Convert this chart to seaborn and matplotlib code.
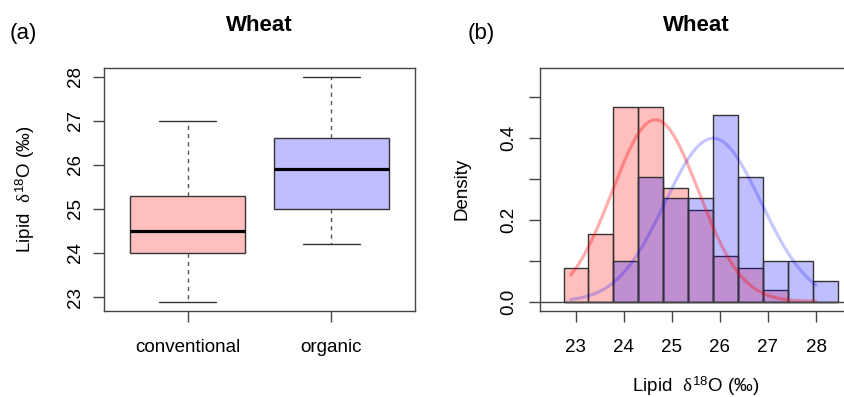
import numpy as np
import pandas as pd
import matplotlib
matplotlib.use("Agg")
import matplotlib.pyplot as plt
import seaborn as sns

# ---- data -------------------------------------------------------------
groups = ["conventional", "organic"]
# five-number summaries: lower whisker, Q1, median, Q3, upper whisker
conventional_summary = [22.9, 24.0, 24.5, 25.3, 27.0]
organic_summary = [24.2, 25.0, 25.9, 26.6, 28.0]

# histogram bins (shared) and densities
bin_start = 22.75
bin_width = 0.518
n_bins = 11
conventional_density = [0.082, 0.166, 0.475, 0.475, 0.278, 0.223, 0.110, 0.083, 0.027, 0.0, 0.0]
organic_density = [0.0, 0.0, 0.099, 0.304, 0.253, 0.253, 0.457, 0.304, 0.100, 0.100, 0.050]

# fitted normal curves (mean, sd)
conventional_fit = (24.66, 0.898)
organic_fit = (25.86, 1.0)
fit_range = (22.9, 28.0)

pink = (1.0, 0.75, 0.75)
lilac = (0.75, 0.75, 1.0)
edge = "#333333"

# ---- style ------------------------------------------------------------
sns.set_theme(style="ticks")
plt.rcParams["font.family"] = ["Liberation Sans", "DejaVu Sans"]
plt.rcParams["mathtext.fontset"] = "custom"
plt.rcParams["mathtext.rm"] = "Liberation Serif"
plt.rcParams["mathtext.it"] = "Liberation Serif"
plt.rcParams["mathtext.sf"] = "Liberation Sans"
plt.rcParams["text.color"] = "black"
plt.rcParams["axes.labelcolor"] = "black"
plt.rcParams["axes.titlecolor"] = "black"
plt.rcParams["axes.edgecolor"] = "#444444"
plt.rcParams["axes.linewidth"] = 1.0
plt.rcParams["xtick.color"] = "#444444"
plt.rcParams["ytick.color"] = "#444444"
plt.rcParams["xtick.labelcolor"] = "black"
plt.rcParams["ytick.labelcolor"] = "black"

TICK_FS = 13.5
LAB_FS = 13.5
ylabel_txt = r"Lipid  $\delta^{\mathsf{18}}$O (‰)"

fig = plt.figure(figsize=(8.44, 3.97), dpi=100)
W, H = 844, 397


def px_axes(l, t, r, b):
    return fig.add_axes([l / W, 1 - b / H, (r - l) / W, (b - t) / H])


# ---- (a) boxplot ------------------------------------------------------
ax1 = px_axes(104, 67.5, 415, 310.5)
box_df = pd.DataFrame({
    "group": np.repeat(groups, 5),
    "value": conventional_summary + organic_summary,
})
sns.boxplot(
    data=box_df, x="group", y="value", hue="group", order=groups,
    palette=[pink, lilac], saturation=1, width=0.8, whis=1.5,
    linecolor=edge, linewidth=1.0, legend=False, ax=ax1,
    whiskerprops=dict(linestyle=(0, (3, 3)), color="#555555"),
    capprops=dict(color="#333333"),
    medianprops=dict(color="black", linewidth=2.3),
    showfliers=False,
)
ax1.set_xlim(-0.58, 1.58)
ax1.set_ylim(22.696, 28.204)
ax1.set_yticks([23, 24, 25, 26, 27, 28])
ax1.set_xlabel("")
ax1.set_ylabel(ylabel_txt, fontsize=LAB_FS)
ax1.yaxis.label.set_va("center")
ax1.yaxis.set_label_coords(-0.254, 0.5)
ax1.tick_params(axis="y", labelrotation=90, length=8, width=1, pad=6.5, labelsize=TICK_FS)
ax1.tick_params(axis="x", length=8, width=1, pad=12.5, labelsize=TICK_FS)
for lab in ax1.get_yticklabels():
    lab.set_va("center")
for s in ax1.spines.values():
    s.set_visible(True)
ax1.set_title("Wheat", fontsize=16, fontweight="bold", pad=26.5)

# ---- (b) histograms + normal fits -------------------------------------
ax2 = px_axes(540, 67.5, 851.6, 310.5)
edges = [bin_start + bin_width * i for i in range(n_bins + 1)]
centers = [(a + b) / 2 for a, b in zip(edges[:-1], edges[1:])]
hist_df = pd.DataFrame({
    "x": centers,
    "conventional": conventional_density,
    "organic": organic_density,
})

sns.histplot(data=hist_df, x="x", weights="conventional", bins=edges, stat="count",
             color=(1, 0, 0), alpha=0.25, edgecolor=edge, linewidth=1.0, ax=ax2)
sns.histplot(data=hist_df, x="x", weights="organic", bins=edges, stat="count",
             color=(0, 0, 1), alpha=0.25, edgecolor=edge, linewidth=1.0, ax=ax2)

xs = np.linspace(fit_range[0], fit_range[1], 200)
for (mu, sd), col in [(conventional_fit, (1, 0, 0, 0.32)), (organic_fit, (0, 0, 1, 0.22))]:
    ys = np.exp(-0.5 * ((xs - mu) / sd) ** 2) / (sd * np.sqrt(2 * np.pi))
    sns.lineplot(x=xs, y=ys, color=col[:3], alpha=col[3], linewidth=2.3, ax=ax2)

ax2.axhline(0, color="#444444", linewidth=1.0)
ax2.set_xlim(22.26, 28.74)
ax2.set_ylim(-0.022, 0.572)
ax2.set_xticks([23, 24, 25, 26, 27, 28])
ax2.set_yticks([0.0, 0.1, 0.2, 0.3, 0.4, 0.5])
ax2.set_yticklabels(["0.0", "", "0.2", "", "0.4", ""])
ax2.tick_params(axis="y", labelrotation=90, length=8, width=1, pad=8.5, labelsize=TICK_FS)
ax2.tick_params(axis="x", length=8, width=1, pad=12.5, labelsize=TICK_FS)
for lab in ax2.get_yticklabels():
    lab.set_va("center")
for s in ax2.spines.values():
    s.set_visible(True)
ax2.set_ylabel("Density", fontsize=LAB_FS)
ax2.yaxis.label.set_va("center")
ax2.yaxis.set_label_coords(-0.251, 0.5)
ax2.set_xlabel(ylabel_txt, fontsize=LAB_FS)
ax2.xaxis.label.set_va("center")
ax2.xaxis.set_label_coords(0.5, -0.31)
ax2.set_title("Wheat", fontsize=16, fontweight="bold", pad=26.5)

fig.text(10 / W, 1 - 39.5 / H, "(a)", fontsize=16, ha="left", va="baseline")
fig.text(468 / W, 1 - 39.5 / H, "(b)", fontsize=16, ha="left", va="baseline")

fig.savefig("out.png", dpi=100)
